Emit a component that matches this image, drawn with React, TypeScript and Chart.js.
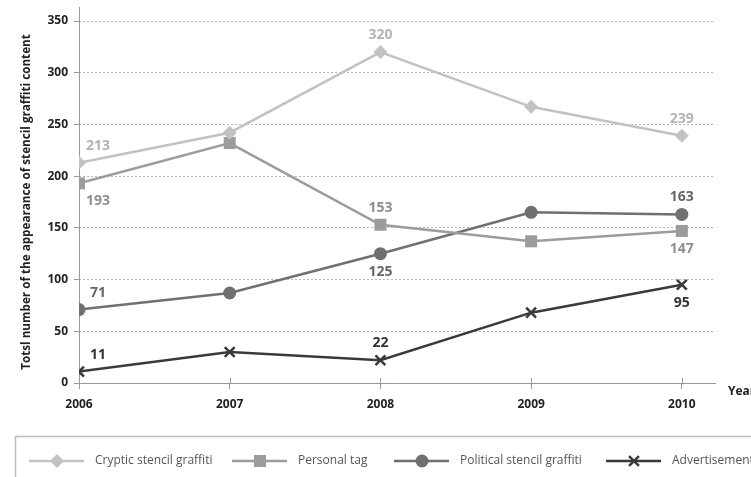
import React, { useEffect, useRef } from "react";
import { Chart, registerables } from "chart.js";
import { drawPoint } from "chart.js/helpers";

Chart.register(...registerables);

const years = [2006, 2007, 2008, 2009, 2010];
const cryptic = [213, 242, 320, 267, 239];
const personalTag = [193, 232, 153, 137, 147];
const political = [71, 87, 125, 165, 163];
const advertisement = [11, 30, 22, 68, 95];
const seriesNames = ["Cryptic stencil graffiti", "Personal tag", "Political stencil graffiti", "Advertisement"];
const yTicks = [0, 50, 100, 150, 200, 250, 300, 350];

// label placement per series per year: ne = above-right, n = above, s = below, se = below-right, '' = none
const labelPlacement = [
  ["ne", "", "n", "", "n"],
  ["se", "", "n", "", "s"],
  ["ne", "", "s", "", "n"],
  ["ne", "", "n", "", "s"],
];
const lineColors = ["#c2c2c2", "#9c9c9c", "#707070", "#3a3a3a"];
const labelColors = ["#b4b4b4", "#8f8f8f", "#666666", "#333333"];
const pointStyles = ["rectRot", "rect", "circle", "crossRot"];
const pointRadii = [7, 8.5, 6.5, 7];
const legendX = [29, 232, 394, 606];

const FONT = "'Open Sans', 'DejaVu Sans', sans-serif";

export default function App() {
  const ref = useRef<HTMLCanvasElement | null>(null);

  useEffect(() => {
    document.body.style.margin = "0";
    const canvas = ref.current!;
    const seriesValues = [cryptic, personalTag, political, advertisement];

    const overlay = {
      id: "overlay",
      beforeDatasetsDraw(chart: any) {
        const ctx = chart.ctx;
        const xs = chart.scales.x;
        const ys = chart.scales.y;
        const left = chart.chartArea.left;
        const bottom = ys.getPixelForValue(0);
        ctx.save();
        ctx.strokeStyle = "#999";
        ctx.lineWidth = 1;
        ctx.beginPath();
        ctx.moveTo(left + 0.5, 7);
        ctx.lineTo(left + 0.5, bottom);
        ctx.stroke();
        years.forEach((yr) => {
          const px = Math.round(xs.getPixelForValue(yr)) + 0.5;
          ctx.beginPath();
          ctx.moveTo(px, bottom - 5);
          ctx.lineTo(px, bottom);
          ctx.stroke();
        });
        ctx.restore();
      },
      afterDraw(chart: any) {
        const ctx = chart.ctx;
        ctx.save();
        // data labels
        ctx.font = `bold 14px ${FONT}`;
        ctx.textAlign = "center";
        ctx.textBaseline = "middle";
        chart.data.datasets.forEach((ds: any, di: number) => {
          const meta = chart.getDatasetMeta(di);
          meta.data.forEach((el: any, i: number) => {
            const p = labelPlacement[di][i];
            if (!p) return;
            let dx = 0;
            let dy = 0;
            if (p.includes("n")) dy = -17;
            if (p.includes("s")) dy = 18;
            if (p.includes("e")) dx = 19;
            ctx.fillStyle = labelColors[di];
            ctx.fillText(String(seriesValues[di][i]), el.x + dx, el.y + dy);
          });
        });
        // Year label
        const bottom = chart.scales.y.getPixelForValue(0);
        ctx.fillStyle = "#222";
        ctx.font = `bold 12px ${FONT}`;
        ctx.textAlign = "left";
        ctx.fillText("Year", 728, bottom + 9);
        // legend box
        ctx.strokeStyle = "#bdbdbd";
        ctx.lineWidth = 1.5;
        ctx.strokeRect(15.5, 436.5, 760, 80);
        const ly = 461;
        chart.data.datasets.forEach((ds: any, di: number) => {
          const x0 = legendX[di];
          ctx.strokeStyle = lineColors[di];
          ctx.lineWidth = 2.5;
          ctx.beginPath();
          ctx.moveTo(x0, ly);
          ctx.lineTo(x0 + 55, ly);
          ctx.stroke();
          ctx.fillStyle = lineColors[di];
          ctx.lineWidth = di === 3 ? 2.5 : 0;
          drawPoint(ctx, { pointStyle: pointStyles[di], radius: pointRadii[di], rotation: 0, borderWidth: di === 3 ? 2.5 : 0 } as any, x0 + 28, ly);
          ctx.fillStyle = "#555";
          ctx.font = `12px ${FONT}`;
          ctx.textAlign = "left";
          ctx.fillText(seriesNames[di], x0 + 66, ly);
        });
        ctx.restore();
      },
    };

    const chart = new Chart(canvas, {
      type: "line",
      data: {
        datasets: [cryptic, personalTag, political, advertisement].map((vals, di) => ({
          label: seriesNames[di],
          data: years.map((yr, i) => ({ x: yr, y: vals[i] })),
          borderColor: lineColors[di],
          backgroundColor: lineColors[di],
          borderWidth: 2.5,
          pointStyle: pointStyles[di] as any,
          pointRadius: pointRadii[di],
          pointBorderWidth: di === 3 ? 2.5 : 0,
          pointBackgroundColor: lineColors[di],
          pointBorderColor: lineColors[di],
          tension: 0,
        })),
      },
      options: {
        animation: false,
        responsive: false,
        events: [],
        layout: { padding: { left: 0, top: 21, right: 36, bottom: 0 } },
        plugins: { legend: { display: false }, tooltip: { enabled: false } },
        scales: {
          x: {
            type: "linear",
            min: 2006,
            max: 2010.22,
            afterFit: (s: any) => {
              s.height = 94;
            },
            ticks: {
              stepSize: 1,
              includeBounds: false,
              autoSkip: false,
              maxRotation: 0,
              padding: 8,
              color: "#222",
              font: { family: FONT, size: 12, weight: "bold" },
              callback: (v: any) => String(v),
            },
            grid: { drawOnChartArea: false, drawTicks: true, tickLength: 6, tickColor: "#999", color: "#999" },
            border: { display: true, color: "#999", width: 1 },
          },
          y: {
            min: 0,
            max: 350,
            afterFit: (s: any) => {
              s.width = 79;
            },
            afterBuildTicks: (s: any) => {
              s.ticks = yTicks.map((v) => ({ value: v }));
            },
            ticks: {
              padding: 6,
              color: "#222",
              font: { family: FONT, size: 12, weight: "bold" },
            },
            grid: {
              color: (c: any) => (c.tick && c.tick.value === 0 ? "rgba(0,0,0,0)" : "#b5b5b5"),
              lineWidth: 1,
              drawTicks: true,
              tickLength: 5,
              tickColor: "#999",
              tickBorderDash: [],
            },
            border: { display: false, dash: [2, 2] },
            title: {
              display: true,
              text: "Totsl number of the appearance of stencil graffiti content",
              color: "#222",
              font: { family: FONT, size: 11.7, weight: "bold" },
              padding: { top: 20, bottom: 0 },
            },
          },
        },
      },
      plugins: [overlay],
    });
    return () => chart.destroy();
  }, []);

  return (
    <div style={{ width: 751, height: 477, overflow: "hidden", background: "#fff" }}>
      <canvas ref={ref} width={751} height={477} style={{ display: "block", width: 751, height: 477 }} />
    </div>
  );
}
